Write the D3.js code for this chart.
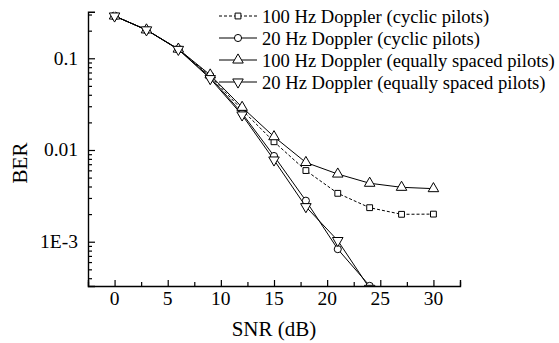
<!DOCTYPE html>
<html>
<head>
<meta charset="utf-8">
<script src="https://cdn.jsdelivr.net/npm/d3@7"></script>
<style>
  body { margin: 0; background: #fff; }
  text { font-family: "Liberation Serif", "Times New Roman", serif; fill: #000; }
</style>
</head>
<body>
<div id="chart"></div>
<script>
// SNR values on the x axis (dB)
const snr = [0, 3, 6, 9, 12, 15, 18, 21, 24, 27, 30];
// BER values
const cyclic100 = [0.289, 0.204, 0.126, 0.064, 0.0273, 0.0123, 0.00597, 0.00337, 0.00235, 0.00199, 0.0020];
const cyclic20 = [0.289, 0.204, 0.125, 0.062, 0.0251, 0.0086, 0.0028, 0.00083, 0.00033, 0.000295];
const equal100 = [0.289, 0.204, 0.126, 0.0658, 0.0292, 0.01396, 0.00731, 0.00547, 0.00434, 0.00392, 0.00379];
const equal20 = [0.289, 0.204, 0.125, 0.060, 0.0241, 0.00778, 0.00241, 0.00103, 0.00031];

const legendLabels = [
  "100 Hz Doppler (cyclic pilots)",
  "20 Hz Doppler (cyclic pilots)",
  "100 Hz Doppler (equally spaced pilots)",
  "20 Hz Doppler (equally spaced pilots)"
];
const xTicks = [0, 5, 10, 15, 20, 25, 30];
const yTicks = [0.1, 0.01, 0.001];
const yTickLabels = ["0.1", "0.01", "1E-3"];

const width = 559, height = 343;
const svg = d3.select("#chart").append("svg")
  .attr("width", width)
  .attr("height", height);

const x = d3.scaleLinear().domain([-2.5, 32.5]).range([88, 460]);
const y = d3.scaleLog().domain([3.29e-4, 0.322]).range([286, 11.7]);

// clip so points below the axis are cut off
svg.append("clipPath").attr("id", "plotclip")
  .append("rect")
  .attr("x", x(-2.5)).attr("y", y(0.322))
  .attr("width", x(32.5) - x(-2.5)).attr("height", y(3.29e-4) - y(0.322));

// x axis
const xMinor = d3.range(-2.5, 33, 2.5).filter(d => !xTicks.includes(d));
svg.append("g")
  .attr("transform", `translate(0,${y(3.29e-4)})`)
  .call(d3.axisTop(x).tickValues(xMinor).tickSize(4).tickFormat(""))
  .call(g => g.select(".domain").remove());
const xAxis = svg.append("g")
  .attr("transform", `translate(0,${y(3.29e-4)})`)
  .call(d3.axisTop(x).tickValues(xTicks).tickSize(6).tickFormat(""));
xAxis.select(".domain").attr("stroke-width", 1.4);
svg.selectAll(".tick line").attr("stroke-width", 1.2);
svg.append("g").selectAll("text").data(xTicks).join("text")
  .attr("x", d => x(d))
  .attr("y", 305)
  .attr("text-anchor", "middle")
  .attr("font-size", 19.5)
  .text(d => d);

// y axis with decade minor ticks
const yMinor = [];
for (let e = -4; e <= -1; e++) {
  for (let m = 2; m <= 9; m++) {
    const v = m * Math.pow(10, e);
    if (v >= 3.29e-4 && v <= 0.322) yMinor.push(v);
  }
}
svg.append("g")
  .attr("transform", `translate(${x(-2.5)},0)`)
  .call(d3.axisRight(y).tickValues(yMinor).tickSize(4).tickFormat(""))
  .call(g => g.select(".domain").remove());
const yAxis = svg.append("g")
  .attr("transform", `translate(${x(-2.5)},0)`)
  .call(d3.axisRight(y).tickValues(yTicks).tickSize(7).tickFormat(""));
yAxis.select(".domain").attr("stroke-width", 1.4);
svg.selectAll(".tick line").attr("stroke-width", 1.2);
svg.append("g").selectAll("text").data(yTicks).join("text")
  .attr("x", 78)
  .attr("y", d => y(d) + 6.5)
  .attr("text-anchor", "end")
  .attr("font-size", 19.5)
  .text((d, i) => yTickLabels[i]);

// axis titles
svg.append("text")
  .attr("x", (x(-2.5) + x(32.5)) / 2)
  .attr("y", 336)
  .attr("text-anchor", "middle")
  .attr("font-size", 21)
  .text("SNR (dB)");
svg.append("text")
  .attr("transform", "translate(27,163) rotate(-90)")
  .attr("text-anchor", "middle")
  .attr("font-size", 21)
  .text("BER");

const series = [
  { values: cyclic100, symbol: d3.symbolSquare, size: 34, rotate: 0, dash: "3,2" },
  { values: cyclic20, symbol: d3.symbolCircle, size: 40, rotate: 0, dash: null },
  { values: equal100, symbol: d3.symbolTriangle, size: 48, rotate: 0, dash: null },
  { values: equal20, symbol: d3.symbolTriangle, size: 48, rotate: 180, dash: null }
];

const plot = svg.append("g").attr("clip-path", "url(#plotclip)");
const line = d3.line()
  .x((d, i) => x(snr[i]))
  .y(d => y(d));

series.forEach(s => {
  plot.append("path")
    .datum(s.values)
    .attr("fill", "none")
    .attr("stroke", "#000")
    .attr("stroke-width", 1)
    .attr("stroke-dasharray", s.dash)
    .attr("d", line);
});
series.forEach(s => {
  plot.append("g").selectAll("path").data(s.values).join("path")
    .attr("transform", (d, i) => `translate(${x(snr[i])},${y(d)}) rotate(${s.rotate})`)
    .attr("d", d3.symbol().type(s.symbol).size(s.size))
    .attr("fill", "#fff")
    .attr("stroke", "#000")
    .attr("stroke-width", 1);
});

// legend
const legend = svg.append("g");
series.forEach((s, i) => {
  const ly = 16 + i * 22;
  legend.append("line")
    .attr("x1", 219).attr("x2", 257)
    .attr("y1", ly).attr("y2", ly)
    .attr("stroke", "#000")
    .attr("stroke-width", 1)
    .attr("stroke-dasharray", s.dash);
  legend.append("path")
    .attr("transform", `translate(238,${ly}) rotate(${s.rotate})`)
    .attr("d", d3.symbol().type(s.symbol).size(s.size))
    .attr("fill", "#fff")
    .attr("stroke", "#000")
    .attr("stroke-width", 1);
  legend.append("text")
    .attr("x", 262)
    .attr("y", ly + 6.5)
    .attr("font-size", 18.6)
    .text(legendLabels[i]);
});
</script>
</body>
</html>
